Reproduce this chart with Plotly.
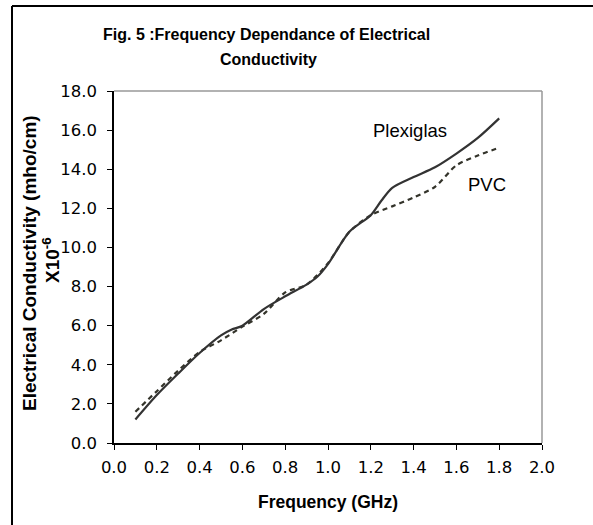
import plotly.graph_objects as go

# Data
plexi_freq = [0.1, 0.2, 0.3, 0.4, 0.5, 0.55, 0.6, 0.7, 0.8, 0.9, 0.95, 1.0, 1.1, 1.2, 1.25, 1.3, 1.4, 1.5, 1.6, 1.7, 1.8]
plexi_cond = [1.2, 2.45, 3.55, 4.6, 5.5, 5.8, 6.0, 6.85, 7.5, 8.1, 8.5, 9.15, 10.8, 11.65, 12.4, 13.05, 13.6, 14.1, 14.8, 15.6, 16.6]

pvc_freq = [0.1, 0.2, 0.3, 0.4, 0.5, 0.6, 0.7, 0.8, 0.9, 1.0, 1.1, 1.2, 1.3, 1.4, 1.5, 1.6, 1.7, 1.8]
pvc_cond = [1.6, 2.65, 3.7, 4.65, 5.25, 5.95, 6.6, 7.7, 8.1, 9.2, 10.8, 11.65, 12.1, 12.55, 13.1, 14.2, 14.7, 15.1]

x_ticks = [0.0, 0.2, 0.4, 0.6, 0.8, 1.0, 1.2, 1.4, 1.6, 1.8, 2.0]
y_ticks = [0.0, 2.0, 4.0, 6.0, 8.0, 10.0, 12.0, 14.0, 16.0, 18.0]

W, H = 593, 525
L, R, T, B = 114, 51, 91, 82
PW, PH = W - L - R, H - T - B

def px(xp):
    return (xp - L) / PW

def py(yp):
    return (H - B - yp) / PH

FONT = "Liberation Sans, Arial, sans-serif"
TICKFONT = "DejaVu Sans, sans-serif"

fig = go.Figure()
fig.add_trace(go.Scatter(x=pvc_freq, y=pvc_cond, mode="lines", name="PVC",
                         line=dict(color="#33332a", width=2.2, dash="5px,4px", shape="spline", smoothing=0.8)))
fig.add_trace(go.Scatter(x=plexi_freq, y=plexi_cond, mode="lines", name="Plexiglas",
                         line=dict(color="#333333", width=2.2, shape="spline", smoothing=0.8)))

fig.update_layout(
    width=W, height=H,
    margin=dict(l=L, r=R, t=T, b=B),
    paper_bgcolor="white", plot_bgcolor="white",
    showlegend=False, hovermode=False,
    font=dict(family=FONT, size=16, color="black"),
    xaxis=dict(range=[0, 2], tickvals=x_ticks, ticktext=[f"{v:.1f}" for v in x_ticks],
               showgrid=False, zeroline=False, showline=True, linecolor="black", linewidth=1.5,
               ticks="outside", ticklen=5, tickcolor="black", ticklabelstandoff=3,
               tickfont=dict(size=16.5, family=TICKFONT)),
    yaxis=dict(range=[0, 18], tickvals=y_ticks, ticktext=[f"{v:.1f}" for v in y_ticks],
               showgrid=False, zeroline=False, showline=True, linecolor="black", linewidth=1.5,
               ticks="outside", ticklen=5, tickcolor="black", ticklabelstandoff=7,
               tickfont=dict(size=16.5, family=TICKFONT)),
    shapes=[
        dict(type="line", xref="paper", yref="paper", x0=0, x1=1, y0=1, y1=1,
             line=dict(color="#999999", width=1.5)),
        dict(type="line", xref="paper", yref="paper", x0=1, x1=1, y0=0, y1=1,
             line=dict(color="#999999", width=1.5)),
        dict(type="line", xref="paper", yref="paper", x0=px(12), x1=px(600), y0=py(6), y1=py(6),
             line=dict(color="black", width=2)),
        dict(type="line", xref="paper", yref="paper", x0=px(12), x1=px(12), y0=py(6), y1=py(530),
             line=dict(color="black", width=2)),
    ],
    annotations=[
        dict(text="<b>Fig. 5 :Frequency Dependance of Electrical</b>",
             xref="paper", yref="paper", x=px(266), y=py(35), xanchor="center", yanchor="middle",
             showarrow=False, font=dict(size=16, family=FONT)),
        dict(text="<b>Conductivity</b>",
             xref="paper", yref="paper", x=px(268), y=py(60), xanchor="center", yanchor="middle",
             showarrow=False, font=dict(size=16, family=FONT)),
        dict(text="<b>Frequency (GHz)</b>", xref="paper", yref="paper", x=px(327.5), y=py(502),
             xanchor="center", yanchor="middle", showarrow=False, font=dict(size=17.5, family=FONT)),
        dict(text="<b>Electrical Conductivity (mho/cm)</b>", xref="paper", yref="paper",
             x=px(29), y=py(263), xanchor="center", yanchor="middle", textangle=-90,
             showarrow=False, font=dict(size=19, family=FONT)),
        dict(text="<b>X10<sup>-6</sup></b>", xref="paper", yref="paper",
             x=px(51), y=py(260), xanchor="center", yanchor="middle", textangle=-90,
             showarrow=False, font=dict(size=19, family=FONT)),
        dict(text="Plexiglas", x=1.384, y=16.0, xref="x", yref="y", showarrow=False,
             xanchor="center", yanchor="middle", font=dict(size=18.5, family=FONT)),
        dict(text="PVC", x=1.742, y=13.24, xref="x", yref="y", showarrow=False,
             xanchor="center", yanchor="middle", font=dict(size=18.5, family=FONT)),
    ],
)

fig.write_html("out.html", config={"displayModeBar": False},
               post_script="document.body.style.margin='0';document.body.style.overflow='hidden';")
